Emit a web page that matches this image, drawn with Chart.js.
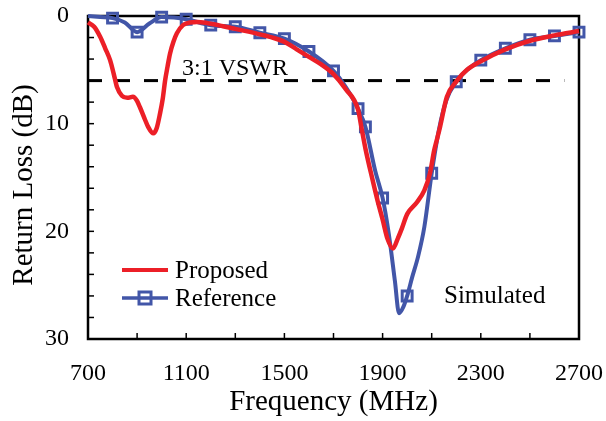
<!DOCTYPE html>
<html>
<head>
<meta charset="utf-8">
<script src="https://cdn.jsdelivr.net/npm/chart.js@4"></script>
<style>
  html, body { margin: 0; padding: 0; background: #fff; }
  #wrap { width: 606px; height: 421px; }
</style>
</head>
<body>
<div id="wrap"><canvas id="rl"></canvas></div>
<script>
// Proposed antenna (red)
const propFreq = [700, 725, 750, 770, 790, 805, 818, 838, 860, 883, 900, 912, 930, 945, 966, 980, 993, 1005, 1014, 1024, 1034, 1048, 1062, 1087, 1115, 1144, 1184, 1250, 1300, 1400, 1500, 1550, 1600, 1650, 1700, 1750, 1800, 1815, 1830, 1860, 1880, 1900, 1920, 1942, 1963, 1979, 2000, 2040, 2070, 2093, 2110, 2121, 2134, 2162, 2203, 2244, 2300, 2400, 2500, 2600, 2700];
const propLoss = [0.6, 1.0, 1.95, 3.0, 4.1, 5.4, 6.6, 7.4, 7.6, 7.5, 7.9, 8.5, 9.5, 10.3, 10.9, 10.4, 9.1, 7.6, 6.0, 4.7, 3.5, 2.4, 1.6, 0.85, 0.6, 0.55, 0.65, 0.95, 1.2, 1.7, 2.4, 3.1, 3.8, 4.5, 5.4, 6.8, 8.7, 10.5, 12.3, 15.3, 17.2, 18.9, 20.7, 21.6, 20.6, 19.7, 18.4, 17.3, 16.2, 14.6, 12.5, 11.5, 10.3, 7.5, 6.0, 5.0, 4.2, 3.1, 2.3, 1.8, 1.4];

// Reference antenna (blue) curve
const refFreq = [700, 750, 800, 850, 900, 950, 1000, 1050, 1100, 1200, 1300, 1400, 1500, 1600, 1700, 1750, 1800, 1830, 1870, 1900, 1925, 1950, 1967, 1985, 2000, 2020, 2045, 2070, 2100, 2130, 2160, 2200, 2250, 2300, 2400, 2500, 2600, 2700];
const refLoss = [0.0, 0.1, 0.2, 0.6, 1.5, 0.7, 0.1, 0.15, 0.3, 0.85, 1.0, 1.55, 2.1, 3.3, 5.1, 6.6, 8.6, 10.3, 14.4, 16.9, 20.2, 24.6, 27.6, 27.0, 26.0, 24.3, 22.3, 19.6, 14.6, 10.5, 7.8, 6.1, 4.9, 4.1, 3.0, 2.2, 1.85, 1.5];

// Reference antenna markers
const markFreq = [800, 900, 1000, 1100, 1200, 1300, 1400, 1500, 1600, 1700, 1800, 1830, 1900, 2000, 2100, 2200, 2300, 2400, 2500, 2600, 2700];
const markLoss = [0.2, 1.5, 0.1, 0.3, 0.85, 1.0, 1.55, 2.1, 3.3, 5.1, 8.6, 10.3, 16.9, 26.0, 14.6, 6.1, 4.1, 3.0, 2.2, 1.85, 1.5];

// 3:1 VSWR level
const vswrFreq = [700, 2640];
const vswrLoss = [6, 6];

const xTicks = [700, 1100, 1500, 1900, 2300, 2700];
const yTicks = [0, 10, 20, 30];

const RED = '#ec1f27';
const BLUE = '#4256a8';
const SERIF = '"Liberation Serif", "Times New Roman", serif';

const pts = (xs, ys) => xs.map((x, i) => ({ x: x, y: ys[i] }));

const decorations = {
  id: 'decorations',
  beforeDatasetsDraw(chart) {
    const ctx = chart.ctx;
    const a = chart.chartArea;
    const xs = chart.scales.x, ys = chart.scales.y;
    ctx.save();
    ctx.strokeStyle = '#000';
    ctx.lineWidth = 1.5;
    // inward minor ticks
    for (let v = 700; v <= 2700; v += 200) {
      const px = xs.getPixelForValue(v);
      ctx.beginPath();
      ctx.moveTo(px, a.bottom);
      ctx.lineTo(px, a.bottom - 6);
      ctx.stroke();
    }
    for (let v = 0; v <= 30; v += 2) {
      const py = ys.getPixelForValue(v);
      ctx.beginPath();
      ctx.moveTo(a.left, py);
      ctx.lineTo(a.left + 6, py);
      ctx.stroke();
    }
    ctx.lineWidth = 2.5;
    ctx.strokeRect(a.left, a.top, a.right - a.left, a.bottom - a.top);
    ctx.restore();
  },
  afterDraw(chart) {
    const ctx = chart.ctx;
    ctx.save();
    ctx.fillStyle = '#000';
    ctx.textBaseline = 'alphabetic';
    ctx.textAlign = 'left';
    ctx.font = '24px ' + SERIF;
    ctx.fillText('3:1 VSWR', 182, 75);
    ctx.font = '25px ' + SERIF;
    ctx.fillText('Simulated', 444, 303);

    // legend
    ctx.lineWidth = 4;
    ctx.strokeStyle = RED;
    ctx.beginPath();
    ctx.moveTo(122, 270);
    ctx.lineTo(168, 270);
    ctx.stroke();
    ctx.strokeStyle = BLUE;
    ctx.lineWidth = 3.5;
    ctx.beginPath();
    ctx.moveTo(122, 298);
    ctx.lineTo(168, 298);
    ctx.stroke();
    ctx.lineWidth = 3;
    ctx.strokeRect(139, 292, 12, 12);
    ctx.fillStyle = '#000';
    ctx.fillText('Proposed', 175, 278);
    ctx.fillText('Reference', 175, 306);

    // y axis title
    ctx.translate(24, 185);
    ctx.rotate(-Math.PI / 2);
    ctx.textAlign = 'center';
    ctx.textBaseline = 'middle';
    ctx.font = '29px ' + SERIF;
    ctx.fillText('Return Loss (dB)', 0, 0);
    ctx.restore();
  }
};

new Chart(document.getElementById('rl'), {
  type: 'line',
  data: {
    datasets: [
      {
        label: 'Proposed',
        data: pts(propFreq, propLoss),
        borderColor: RED,
        borderWidth: 4.5,
        pointRadius: 0,
        cubicInterpolationMode: 'monotone',
        clip: 6,
        order: 1
      },
      {
        label: 'Reference',
        data: pts(markFreq, markLoss),
        showLine: false,
        pointStyle: 'rect',
        pointRadius: 7,
        pointBorderWidth: 3,
        pointBorderColor: BLUE,
        pointBackgroundColor: 'rgba(0,0,0,0)',
        clip: 10,
        order: 2
      },
      {
        label: 'Reference curve',
        data: pts(refFreq, refLoss),
        borderColor: BLUE,
        borderWidth: 4,
        pointRadius: 0,
        cubicInterpolationMode: 'monotone',
        clip: 6,
        order: 3
      },
      {
        label: '3:1 VSWR',
        data: pts(vswrFreq, vswrLoss),
        borderColor: '#000',
        borderWidth: 3,
        borderDash: [14, 14],
        pointRadius: 0,
        order: 4
      }
    ]
  },
  options: {
    responsive: true,
    maintainAspectRatio: false,
    animation: false,
    layout: { padding: { top: 16, right: 27, left: 0, bottom: 0 } },
    plugins: { legend: { display: false }, tooltip: { enabled: false } },
    scales: {
      x: {
        type: 'linear',
        min: 700,
        max: 2700,
        afterFit: s => { s.height = 82; s.paddingLeft = 0; s.paddingRight = 0; },
        afterBuildTicks: s => { s.ticks = xTicks.map(v => ({ value: v })); },
        grid: { display: false },
        border: { display: false },
        ticks: { color: '#000', font: { family: SERIF, size: 24 }, padding: 12, maxRotation: 0, autoSkip: false, callback: v => String(v) },
        title: { display: true, text: 'Frequency (MHz)', color: '#000', font: { family: SERIF, size: 29 }, padding: { top: 0, bottom: 1 } }
      },
      y: {
        type: 'linear',
        reverse: true,
        min: 0,
        max: 30,
        afterFit: s => { s.width = 88; s.paddingTop = 0; s.paddingBottom = 0; },
        afterBuildTicks: s => { s.ticks = yTicks.map(v => ({ value: v })); },
        grid: { display: false },
        border: { display: false },
        ticks: { color: '#000', font: { family: SERIF, size: 24 }, padding: 11, callback: v => String(v) },
        title: { display: false }
      }
    }
  },
  plugins: [decorations]
});
</script>
</body>
</html>
